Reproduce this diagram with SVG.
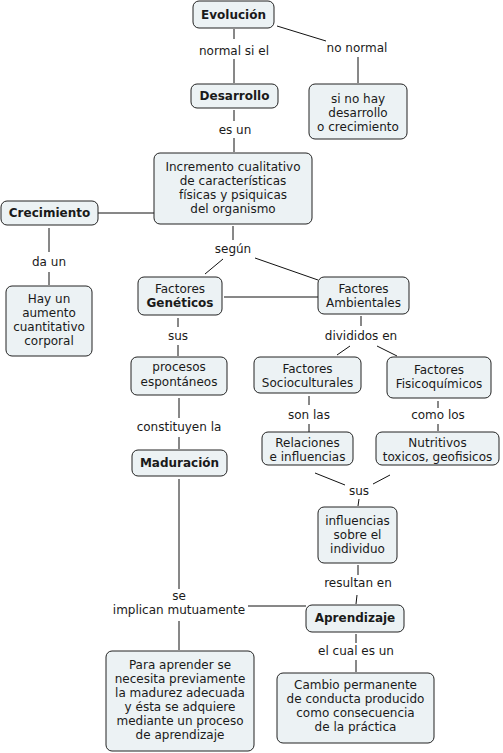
<svg xmlns="http://www.w3.org/2000/svg" width="503" height="753" viewBox="0 0 503 753">
<style>
.n rect{fill:#ecf2f4;stroke:#222;stroke-width:1}
text{font-family:"DejaVu Sans",Verdana,sans-serif;font-size:12px;fill:#1a1a1a;text-anchor:middle}
.b{font-weight:bold}
#connectors line,#connectors polyline{stroke:#111;stroke-width:1;fill:none}
</style>
<rect width="503" height="753" fill="#fff"/>
<g id="connectors">
<line x1="234" y1="29" x2="234" y2="39"/>
<line x1="234" y1="59" x2="234" y2="83"/>
<line x1="277" y1="26" x2="326" y2="41"/>
<line x1="358" y1="57" x2="358" y2="83"/>
<line x1="234" y1="110" x2="234" y2="121"/>
<line x1="234" y1="138" x2="234" y2="152"/>
<line x1="98" y1="213" x2="154" y2="213"/>
<line x1="49" y1="228" x2="49" y2="252"/>
<line x1="49" y1="272" x2="49" y2="285"/>
<line x1="233" y1="226" x2="233" y2="240"/>
<line x1="223" y1="259" x2="205" y2="274"/>
<line x1="255" y1="258" x2="318" y2="280"/>
<line x1="224" y1="297" x2="318" y2="297"/>
<line x1="178" y1="318" x2="178" y2="327"/>
<line x1="178" y1="345" x2="178" y2="356"/>
<line x1="361" y1="316" x2="361" y2="326"/>
<line x1="350" y1="346" x2="337" y2="355"/>
<line x1="377" y1="346" x2="397" y2="356"/>
<line x1="179" y1="398" x2="179" y2="418"/>
<line x1="179" y1="437" x2="179" y2="449"/>
<line x1="309" y1="396" x2="309" y2="405"/>
<line x1="309" y1="424" x2="309" y2="432"/>
<line x1="438" y1="401" x2="438" y2="408"/>
<line x1="438" y1="424" x2="438" y2="431"/>
<line x1="315" y1="473" x2="345" y2="485"/>
<line x1="373" y1="484" x2="390" y2="475"/>
<line x1="359" y1="499" x2="358" y2="506"/>
<line x1="358" y1="565" x2="358" y2="575"/>
<line x1="357" y1="595" x2="356" y2="604"/>
<line x1="179" y1="479" x2="179" y2="589"/>
<line x1="248" y1="606" x2="306" y2="606"/>
<line x1="179" y1="621" x2="179" y2="650"/>
<line x1="356" y1="634" x2="356" y2="643"/>
<line x1="356" y1="660" x2="356" y2="672"/>
</g>
<g id="evolucion" class="n"><rect x="193" y="1" width="81" height="27" rx="6"/><text x="233.5" y="19" class="b">Evolución</text></g>
<text x="234" y="55">normal si el</text>
<text x="357" y="52">no normal</text>
<g id="desarrollo" class="n"><rect x="191" y="84" width="87" height="24" rx="6"/><text x="234.5" y="100" class="b">Desarrollo</text></g>
<g id="sinohay" class="n"><rect x="309" y="84" width="98" height="55" rx="6"/><text x="358" y="103">si no hay</text><text x="358" y="117">desarrollo</text><text x="358" y="131">o crecimiento</text></g>
<text x="235" y="134">es un</text>
<g id="incremento" class="n"><rect x="154" y="153" width="158" height="71" rx="6"/><text x="233" y="171">Incremento cualitativo</text><text x="233" y="185">de características</text><text x="233" y="199">físicas y psiquicas</text><text x="233" y="213">del organismo</text></g>
<g id="crecimiento" class="n"><rect x="1" y="201" width="97" height="24" rx="6"/><text x="49.5" y="217" class="b">Crecimiento</text></g>
<text x="49" y="266">da un</text>
<g id="hayun" class="n"><rect x="6" y="286" width="86" height="70" rx="6"/><text x="49" y="303">Hay un</text><text x="49" y="317">aumento</text><text x="49" y="331">cuantitativo</text><text x="49" y="345">corporal</text></g>
<text x="233" y="253">según</text>
<g id="geneticos" class="n"><rect x="138" y="277" width="84" height="38" rx="6"/><text x="180" y="293">Factores</text><text x="180" y="307" class="b">Genéticos</text></g>
<g id="ambientales" class="n"><rect x="318" y="277" width="91" height="37" rx="6"/><text x="363.5" y="293">Factores</text><text x="363.5" y="307">Ambientales</text></g>
<text x="178" y="340">sus</text>
<text x="361" y="340">divididos en</text>
<g id="procesos" class="n"><rect x="131" y="357" width="96" height="38" rx="6"/><text x="179" y="371">procesos</text><text x="179" y="386">espontáneos</text></g>
<g id="socioculturales" class="n"><rect x="254" y="357" width="107" height="36" rx="6"/><text x="307.5" y="373">Factores</text><text x="307.5" y="387">Socioculturales</text></g>
<g id="fisicoquimicos" class="n"><rect x="387" y="357" width="104" height="41" rx="6"/><text x="439" y="374">Factores</text><text x="439" y="388">Fisicoquímicos</text></g>
<text x="179" y="431">constituyen la</text>
<text x="309" y="419">son las</text>
<text x="438" y="419">como los</text>
<g id="maduracion" class="n"><rect x="132" y="450" width="95" height="26" rx="6"/><text x="179.5" y="467" class="b">Maduración</text></g>
<g id="relaciones" class="n"><rect x="262" y="432" width="91" height="33" rx="6"/><text x="307.5" y="447">Relaciones</text><text x="307.5" y="461">e influencias</text></g>
<g id="nutritivos" class="n"><rect x="376" y="432" width="123" height="33" rx="6"/><text x="437.5" y="447">Nutritivos</text><text x="437.5" y="461">toxicos, geofisicos</text></g>
<text x="359" y="495">sus</text>
<g id="influencias" class="n"><rect x="318" y="507" width="79" height="56" rx="6"/><text x="357.5" y="525">influencias</text><text x="357.5" y="539">sobre el</text><text x="357.5" y="553">individuo</text></g>
<text x="358" y="587">resultan en</text>
<text x="179" y="600">se</text>
<text x="179" y="614">implican mutuamente</text>
<g id="aprendizaje" class="n"><rect x="306" y="605" width="98" height="27" rx="6"/><text x="355" y="622" class="b">Aprendizaje</text></g>
<text x="356" y="655">el cual es un</text>
<g id="paraaprender" class="n"><rect x="106" y="651" width="148" height="100" rx="6"/><text x="180" y="669">Para aprender se</text><text x="180" y="683">necesita previamente</text><text x="180" y="697">la madurez adecuada</text><text x="180" y="711">y ésta se adquiere</text><text x="180" y="725">mediante un proceso</text><text x="180" y="739">de aprendizaje</text></g>
<g id="cambio" class="n"><rect x="277" y="673" width="157" height="70" rx="6"/><text x="355.5" y="689">Cambio permanente</text><text x="355.5" y="703">de conducta producido</text><text x="355.5" y="717">como consecuencia</text><text x="355.5" y="731">de la práctica</text></g>
</svg>
